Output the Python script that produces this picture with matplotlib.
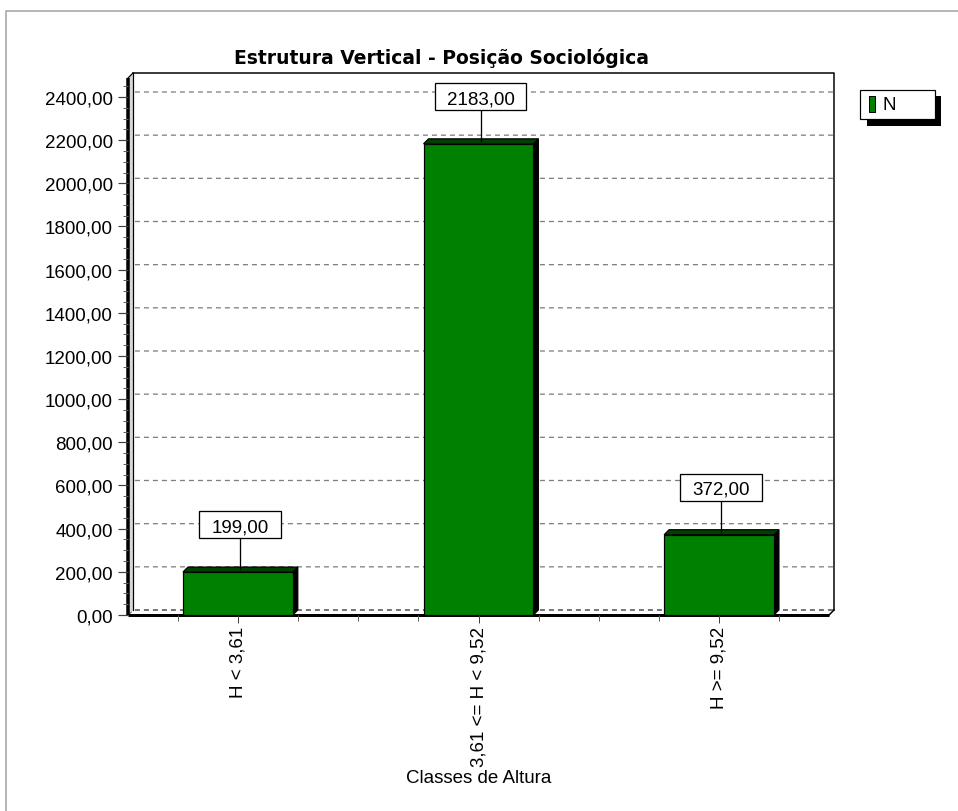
import numpy as np
import matplotlib
matplotlib.use("Agg")
import matplotlib.pyplot as plt
from matplotlib.patches import Rectangle, Polygon
from matplotlib.lines import Line2D
from matplotlib.ticker import FuncFormatter, FixedLocator, MultipleLocator
from matplotlib import transforms

# ---- data ----
categories = ["H < 3,61", "3,61 <= H < 9,52", "H >= 9,52"]
values = [199.0, 2183.0, 372.0]
series_name = "N"
chart_title = "Estrutura Vertical - Posição Sociológica"
x_title = "Classes de Altura"
y_ticks = [0, 200, 400, 600, 800, 1000, 1200, 1400, 1600, 1800, 2000, 2200, 2400]

# ---- style ----
DPI = 100
W, H = 958, 812
PT = 72.0 / DPI          # points per pixel
FS = 13.5
BAR_GREEN = "#008000"
TOP_GREEN = "#004000"
plt.rcParams["font.family"] = ["Liberation Sans", "DejaVu Sans"]
plt.rcParams["lines.scale_dashes"] = False

fig = plt.figure(figsize=(W / DPI, H / DPI), dpi=DPI)
fig.patch.set_facecolor("white")


def fx(px):
    return px / W


def fy(py):
    return 1 - py / H


# front plane of the 3D box, in pixels
P_LEFT, P_RIGHT, P_TOP, P_BOTTOM = 128, 829, 79, 616
ax = fig.add_axes([fx(P_LEFT), fy(P_BOTTOM), (P_RIGHT - P_LEFT) / W, (P_BOTTOM - P_TOP) / H])
ax.set_xlim(-0.457, 2.457)
ax.set_ylim(0, 2488)
for s in ax.spines.values():
    s.set_visible(False)
ax.patch.set_visible(False)

x0, x1 = ax.get_xlim()
y0, y1 = ax.get_ylim()
DEPTH = 5  # px
ddx = DEPTH * (x1 - x0) / (P_RIGHT - P_LEFT)
ddy = DEPTH * (y1 - y0) / (P_BOTTOM - P_TOP)

# back wall (top and right edges outlined)
ax.add_patch(Rectangle((x0 + ddx, y0 + ddy), x1 - x0, y1 - y0, fc="white", ec="none",
                       clip_on=False, zorder=0.5))
ax.plot([x0 + ddx, x1 + ddx, x1 + ddx], [y1 + ddy, y1 + ddy, y0 + ddy], color="black",
        lw=1.5 * PT, clip_on=False, zorder=0.6)

# grid lines on the back wall, with short diagonals across the left wall
for yv in y_ticks:
    col = "#808080" if yv > 0 else "#303030"
    ax.plot([x0, x0 + ddx, x1 + ddx], [yv, yv + ddy, yv + ddy], color=col, lw=1.3 * PT,
            ls=(0, (5 * PT, 4 * PT)), clip_on=False, zorder=1)

# left wall
ax.add_patch(Polygon([(x0, y0), (x0 + ddx, y0 + ddy), (x0 + ddx, y1 + ddy), (x0, y1)],
                     closed=True, fc="#d6d6d6", ec="none", clip_on=False, zorder=1.2))
ax.plot([x0 + ddx, x0 + ddx], [y0 + ddy, y1 + ddy], color="black", lw=1.2 * PT, clip_on=False, zorder=1.3)
ax.plot([x0, x0 + ddx], [y1, y1 + ddy], color="black", lw=1.2 * PT, clip_on=False, zorder=1.3)

# floor
ax.add_patch(Polygon([(x0, y0), (x1, y0), (x1 + ddx, y0 + ddy), (x0 + ddx, y0 + ddy)],
                     closed=True, fc="white", ec="none", clip_on=False, zorder=0.9))
ax.plot([x1, x1 + ddx], [y0, y0 + ddy], color="black", lw=1.5 * PT, clip_on=False, zorder=1.3)

# front axis lines
ax.plot([x0, x0], [y0, y1], color="black", lw=3.5 * PT, clip_on=False, zorder=1.4,
        solid_capstyle="butt")
ax.plot([x0, x1], [y0, y0], color="black", lw=3 * PT, clip_on=False, zorder=1.4,
        solid_capstyle="butt")

# bars
BAR_W = 0.457
xs = np.arange(len(categories))
ax.bar(xs, values, width=BAR_W, color=BAR_GREEN, edgecolor="black", linewidth=1.2 * PT, zorder=2.2)
for xc, v in zip(xs, values):
    l, r = xc - BAR_W / 2, xc + BAR_W / 2
    ax.add_patch(Polygon([(r, 0), (r + ddx, ddy), (r + ddx, v + ddy), (r, v)], closed=True,
                         fc="black", ec="black", lw=1 * PT, clip_on=False, zorder=2.1))
    ax.add_patch(Polygon([(l, v), (r, v), (r + ddx, v + ddy), (l + ddx, v + ddy)], closed=True,
                         fc=TOP_GREEN, ec="black", lw=1.2 * PT, clip_on=False, zorder=2.1))

# value labels: boxed text linked to the bar top
renderer = fig.canvas.get_renderer()
for xc, v in zip(xs, values):
    tr = fig.dpi_scale_trans + transforms.ScaledTranslation(xc, v, ax.transData)
    label = f"{v:.2f}".replace(".", ",")
    t = ax.text(2 / DPI, 40.8 / DPI, label, transform=tr, ha="center", va="baseline",
                fontsize=FS, zorder=3.2, clip_on=False)
    bw = t.get_window_extent(renderer).width + 24
    ax.add_patch(Rectangle(((2 - bw / 2) / DPI, 34 / DPI), bw / DPI, 27 / DPI, transform=tr,
                           fc="white", ec="black", lw=1.3 * PT, clip_on=False, zorder=3.1))
    ax.add_line(Line2D([2 / DPI, 2 / DPI], [3 / DPI, 34 / DPI], transform=tr, color="black",
                       lw=1.3 * PT, clip_on=False, zorder=3.0))

# y axis ticks
ax.yaxis.set_major_locator(FixedLocator(y_ticks))
ax.yaxis.set_minor_locator(MultipleLocator(50))
ax.yaxis.set_major_formatter(FuncFormatter(lambda v, p: f"{v:.2f}".replace(".", ",")))
ax.tick_params(axis="y", which="major", direction="out", length=10 * PT, width=1.2 * PT,
               pad=5 * PT, labelsize=FS, color="#404040")
ax.tick_params(axis="y", which="minor", direction="out", length=5 * PT, width=1 * PT, color="#606060")

# x axis ticks
ax.xaxis.set_major_locator(FixedLocator(list(xs)))
ax.xaxis.set_minor_locator(FixedLocator(list(np.arange(-0.25, 2.26, 0.25))))
ax.set_xticklabels(categories, rotation=90, fontsize=FS)
ax.tick_params(axis="x", which="major", direction="out", length=8 * PT, width=1 * PT,
               pad=3 * PT, color="#404040")
ax.tick_params(axis="x", which="minor", direction="out", length=6 * PT, width=1 * PT, color="#606060")
ax.set_xlabel(x_title, fontsize=FS, labelpad=3 * PT)

# title
fig.text(fx(441), fy(63.5), chart_title, ha="center", va="baseline", fontsize=FS,
         fontweight="bold", family=["DejaVu Sans"])

# legend box with drop shadow
fig.patches.append(Rectangle((fx(867), fy(127)), 74 / W, 30 / H, transform=fig.transFigure,
                             fc="black", ec="none", zorder=5))
fig.patches.append(Rectangle((fx(860), fy(120)), 75 / W, 29 / H, transform=fig.transFigure,
                             fc="white", ec="black", lw=1.2 * PT, zorder=6))
fig.patches.append(Rectangle((fx(869), fy(113)), 6 / W, 16 / H, transform=fig.transFigure,
                             fc=BAR_GREEN, ec="black", lw=1 * PT, zorder=7))
fig.text(fx(882), fy(105.5), series_name, ha="left", va="center", fontsize=FS, zorder=8)

# outer panel frame
fig.lines.append(Line2D([fx(5.5), fx(5.5), fx(958)], [fy(812), fy(11.5), fy(11.5)],
                        transform=fig.transFigure, color="#a0a0a0", lw=1.5 * PT))

fig.savefig("out.png", dpi=DPI)
